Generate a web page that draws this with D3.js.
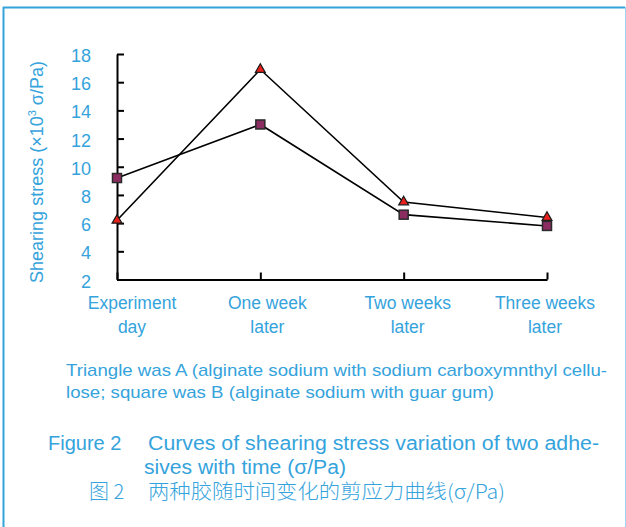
<!DOCTYPE html>
<html>
<head>
<meta charset="utf-8">
<script src="https://cdn.jsdelivr.net/npm/d3@7"></script>
<style>
  body { margin: 0; background: #fff; }
  svg text { font-family: "Liberation Sans", Arial, sans-serif; }
</style>
</head>
<body>
<div id="chart"></div>
<script>
// Data
var categories = ["Experiment day", "One week later", "Two weeks later", "Three weeks later"];
var catLines = [["Experiment", "day"], ["One week", "later"], ["Two weeks", "later"], ["Three weeks", "later"]];
var seriesA = [6.2, 16.9, 7.5, 6.4];   // triangle
var seriesB = [9.2, 13.0, 6.6, 5.8];   // square
var yTicks = [2, 4, 6, 8, 10, 12, 14, 16, 18];

var blue = "#35a3dc";
var W = 626, H = 527;

var svg = d3.select("#chart").append("svg")
  .attr("width", W)
  .attr("height", H);

// frame
svg.append("line").attr("x1", 3).attr("x2", 625).attr("y1", 7.5).attr("y2", 7.5)
  .attr("stroke", blue).attr("stroke-width", 2);
svg.append("line").attr("x1", 3.5).attr("x2", 3.5).attr("y1", 7).attr("y2", H)
  .attr("stroke", blue).attr("stroke-width", 2);
svg.append("line").attr("x1", 625.5).attr("x2", 625.5).attr("y1", 7).attr("y2", H)
  .attr("stroke", "#9fd3ef").attr("stroke-width", 1);

// scales
var x = d3.scalePoint().domain(categories).range([117, 547]);
var y = d3.scaleLinear().domain([2, 18]).range([279.5, 54]);

// y axis, ticks pointing inside
var yAxis = svg.append("g")
  .attr("transform", "translate(117,0)")
  .call(d3.axisLeft(y).tickValues(yTicks).tickSizeInner(-7).tickSizeOuter(0).tickPadding(26));
yAxis.select(".domain").attr("stroke", "#000").attr("stroke-width", 2);
yAxis.selectAll(".tick line").attr("stroke", "#000").attr("stroke-width", 2);
yAxis.selectAll(".tick text")
  .attr("fill", blue)
  .style("font-size", "18px")
  .style("font-family", "'Liberation Sans', Arial, sans-serif")
  .attr("dy", "0.42em");

// x axis
var xAxis = svg.append("g")
  .attr("transform", "translate(0,279.5)")
  .call(d3.axisBottom(x).tickSizeInner(-7).tickSizeOuter(0).tickFormat(""));
xAxis.select(".domain").attr("stroke", "#000").attr("stroke-width", 2);
xAxis.selectAll(".tick line").attr("stroke", "#000").attr("stroke-width", 2);

var labelShift = [15, 7, 4, -2];
categories.forEach(function(c, i) {
  var t = svg.append("text")
    .attr("text-anchor", "middle")
    .attr("fill", blue)
    .style("font-size", "17.5px");
  catLines[i].forEach(function(s, j) {
    t.append("tspan")
      .attr("x", x(c) + labelShift[i])
      .attr("y", 309 + j * 24)
      .text(s);
  });
});

// y axis title
var yt = svg.append("text")
  .attr("transform", "translate(43,172) rotate(-90)")
  .attr("text-anchor", "middle")
  .attr("fill", blue)
  .style("font-size", "18px");
yt.append("tspan").text("Shearing stress (\u00d710");
yt.append("tspan").attr("dy", -7).style("font-size", "11px").text("3");
yt.append("tspan").attr("dy", 7).text(" \u03c3/Pa)");

// lines
var line = d3.line()
  .x(function(d, i) { return x(categories[i]); })
  .y(function(d) { return y(d); });

svg.append("path").datum(seriesA).attr("d", line)
  .attr("fill", "none").attr("stroke", "#000").attr("stroke-width", 1.6);
svg.append("path").datum(seriesB).attr("d", line)
  .attr("fill", "none").attr("stroke", "#000").attr("stroke-width", 1.6);

// markers
svg.selectAll("path.tri").data(seriesA).enter().append("path")
  .attr("class", "tri")
  .attr("d", d3.symbol().type(d3.symbolTriangle).size(42))
  .attr("transform", function(d, i) { return "translate(" + x(categories[i]) + "," + y(d) + ")"; })
  .attr("fill", "#e8211c").attr("stroke", "#1a1a1a").attr("stroke-width", 1.2);

svg.selectAll("rect.sq").data(seriesB).enter().append("rect")
  .attr("class", "sq")
  .attr("x", function(d, i) { return x(categories[i]) - 4.5; })
  .attr("y", function(d) { return y(d) - 4.5; })
  .attr("width", 9).attr("height", 9)
  .attr("fill", "#8c2d62").attr("stroke", "#2a2a2a").attr("stroke-width", 1.5);

// note text
var notes = [
  { s: "Triangle was A (alginate sodium with sodium carboxymnthyl cellu-", x: 66, y: 376, w: 541 },
  { s: "lose; square was B (alginate sodium with guar gum)", x: 66, y: 398, w: 428 }
];
notes.forEach(function(n) {
  svg.append("text").attr("x", n.x).attr("y", n.y)
    .attr("fill", blue).style("font-size", "17px")
    .attr("textLength", n.w).attr("lengthAdjust", "spacingAndGlyphs")
    .text(n.s);
});

// caption
svg.append("text").attr("x", 48).attr("y", 450).attr("fill", blue)
  .style("font-size", "20px").text("Figure 2");
svg.append("text").attr("x", 148).attr("y", 450).attr("fill", blue)
  .style("font-size", "20px")
  .attr("textLength", 451).attr("lengthAdjust", "spacingAndGlyphs")
  .text("Curves of shearing stress variation of two adhe-");
svg.append("text").attr("x", 144).attr("y", 474).attr("fill", blue)
  .style("font-size", "20px")
  .attr("textLength", 202).attr("lengthAdjust", "spacingAndGlyphs")
  .text("sives with time (\u03c3/Pa)");
svg.append("text").attr("x", 89).attr("y", 499).attr("fill", blue)
  .style("font-size", "20px")
  .style("font-family", "'Noto Sans CJK SC', sans-serif")
  .style("font-weight", 300)
  .text("\u56fe 2");
svg.append("text").attr("x", 148).attr("y", 499).attr("fill", blue)
  .style("font-size", "20px")
  .style("font-family", "'Noto Sans CJK SC', sans-serif")
  .style("font-weight", 300)
  .attr("textLength", 357).attr("lengthAdjust", "spacingAndGlyphs")
  .text("\u4e24\u79cd\u80f6\u968f\u65f6\u95f4\u53d8\u5316\u7684\u526a\u5e94\u529b\u66f2\u7ebf(\u03c3/Pa)");
</script>
</body>
</html>
